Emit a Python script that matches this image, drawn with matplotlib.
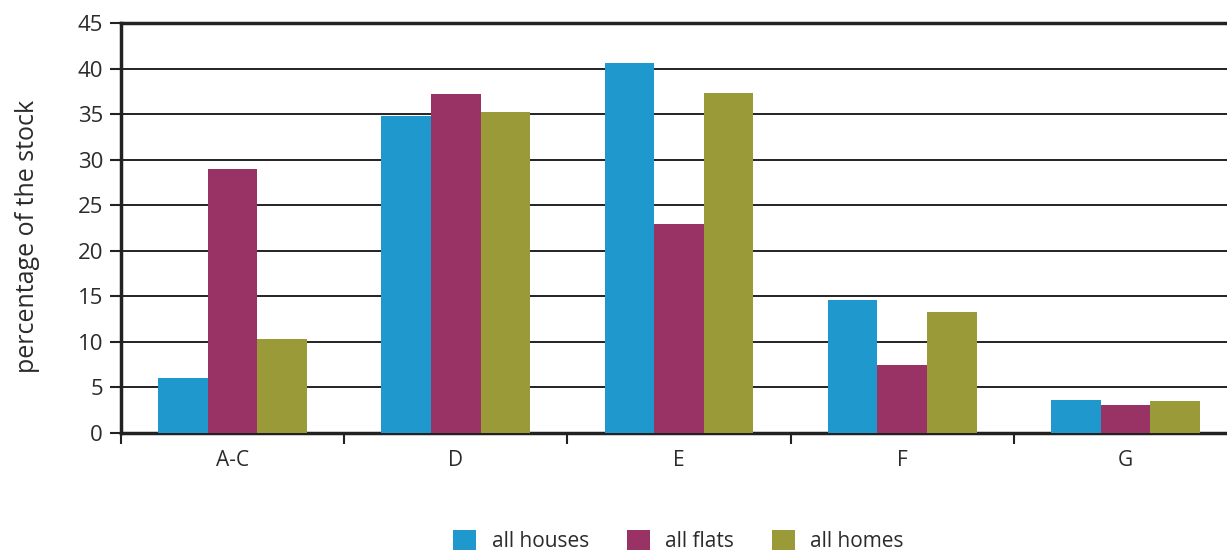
import matplotlib
matplotlib.use("Agg")
import matplotlib.pyplot as plt
import numpy as np

categories = ["A-C", "D", "E", "F", "G"]
all_houses = [6.0, 34.8, 40.6, 14.6, 3.6]
all_flats = [29.0, 37.2, 22.9, 7.5, 3.1]
all_homes = [10.3, 35.2, 37.3, 13.3, 3.5]
series_names = ["all houses", "all flats", "all homes"]
colors = ["#1F99CD", "#993366", "#9A9A38"]
yticks = [0, 5, 10, 15, 20, 25, 30, 35, 40, 45]

plt.rcParams['font.family'] = ['Open Sans', 'DejaVu Sans']
text_color = "#2b2b2b"

fig = plt.figure(figsize=(12.27, 5.52), dpi=100)
ax = fig.add_axes([121/1227, 1 - 433/552, (1237 - 121)/1227, (433 - 23)/552])

x = np.arange(len(categories))
w = 0.222
for i, (vals, name, c) in enumerate(zip([all_houses, all_flats, all_homes], series_names, colors)):
    ax.bar(x + (i - 1) * w, vals, width=w, color=c, label=name, zorder=3)

ax.set_xlim(-0.5, 4.5)
ax.set_ylim(0, 45)
ax.set_yticks(yticks)
ax.yaxis.grid(True, color="#222222", linewidth=1.4, zorder=0)
ax.set_axisbelow(True)

ax.set_xticks(x)
ax.set_xticklabels(categories)
ax.tick_params(axis='x', which='major', length=0, pad=12, labelsize=15, labelcolor=text_color)
ax.set_xticks(np.arange(-0.5, 5.0, 1.0), minor=True)
ax.tick_params(axis='x', which='minor', length=8, width=1.5, color="#222222")
ax.tick_params(axis='y', length=8, width=1.5, color="#222222", labelsize=16, labelcolor=text_color, pad=5)

for s in ['left', 'bottom', 'top']:
    ax.spines[s].set_linewidth(2.5)
    ax.spines[s].set_color("#222222")
ax.spines['right'].set_visible(False)

ax.set_ylabel("percentage of the stock", fontsize=18, color=text_color)
ax.yaxis.set_label_coords(-0.073, 0.48)

leg = fig.legend(loc='center', bbox_to_anchor=(0.553, 1 - 541/552), ncol=3, frameon=False,
                 fontsize=15, handlelength=1.1, handleheight=1.1, columnspacing=1.8, handletextpad=0.75)
for t in leg.get_texts():
    t.set_color(text_color)

fig.savefig("out.png", dpi=100)
